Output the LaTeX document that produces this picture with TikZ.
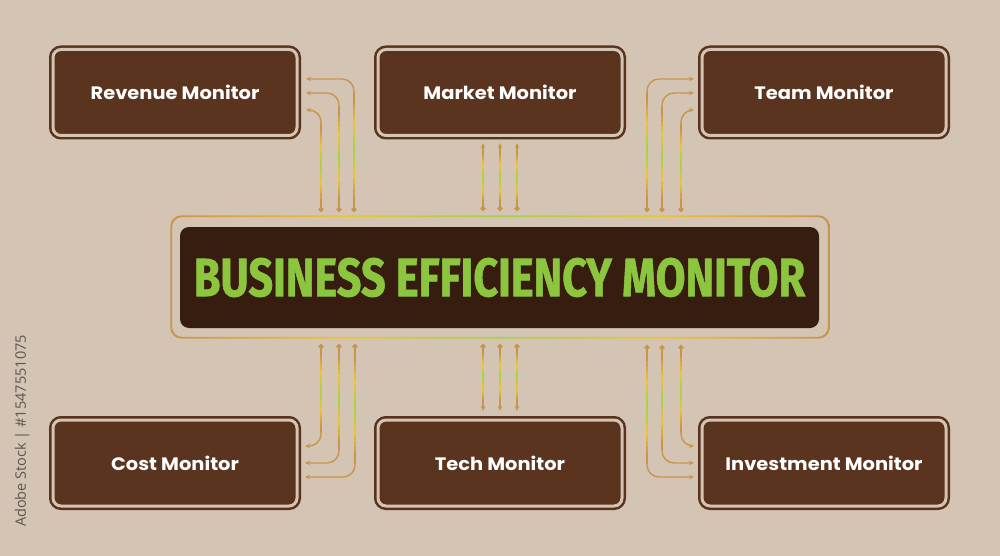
\documentclass[tikz,border=0pt]{standalone}
\usepackage{fontspec}
\usetikzlibrary{arrows.meta}
\newfontfamily\lblfont{Poppins}
\newfontfamily\titlefont{Fira Sans}[BoldFeatures={FakeBold=1.2}]
\newfontfamily\sidefont{Open Sans}
\definecolor{bg}{HTML}{D4C4B4}
\definecolor{boxc}{HTML}{5B341F}
\definecolor{brd}{HTML}{5A331E}
\definecolor{darkc}{HTML}{371D10}
\definecolor{titlegreen}{HTML}{8CC63F}
\definecolor{wtan}{HTML}{C8954C}
\definecolor{wyel}{HTML}{EDC435}
\definecolor{wgrn}{HTML}{A6D04A}
\definecolor{sidegray}{HTML}{5E5651}
\pgfdeclarehorizontalshading{ring}{100bp}{color(0bp)=(wtan); color(25bp)=(wtan); color(38bp)=(wyel); color(50bp)=(wgrn); color(62bp)=(wyel); color(75bp)=(wtan); color(100bp)=(wtan)}
\newcommand\gradwire[3]{% x, y1, y2 : coloured overlay on the straight part of a wire
  \foreach \i in {0,...,19}{
    \pgfmathsetmacro\ya{#2+(#3-#2)*\i/20}
    \pgfmathsetmacro\yb{#2+(#3-#2)*(\i+1)/20+0.3*sign(#3-#2)}
    \pgfmathsetmacro\dd{abs((\i+0.5)/20-0.5)*2}
    \pgfmathparse{\dd<0.45 ? 1 : 0}
    \ifnum\pgfmathresult=1
      \pgfmathsetmacro\pp{100-100*\dd/0.45}
      \colorlet{segc}{wgrn!\pp!wyel}
    \else
      \pgfmathsetmacro\pp{max(0,100-100*(\dd-0.45)/0.4)}
      \colorlet{segc}{wyel!\pp!wtan}
    \fi
    \fill[segc] (#1-0.7,\ya) rectangle (#1+0.7,\yb);
  }}
\tikzset{
  monbox/.style={draw=brd, line width=2.5pt, double=bg, double distance=3pt,
    fill=boxc, rounded corners=8pt, minimum width=244pt, minimum height=86pt,
    inner sep=0pt, text=white, font=\lblfont\bfseries\fontsize{18}{21}\selectfont},
  wire/.style={draw=wtan, line width=1.4pt, rounded corners=12pt,
    {Circle[length=5pt]}-{Stealth[length=5pt,width=4.5pt]}}
}
\begin{document}
\begin{tikzpicture}[x=1pt,y=-1pt]
\fill[bg] (0,0) rectangle (1000,556);
\useasboundingbox (0,0) rectangle (1000,556);

% side text
\node[rotate=90, text=sidegray, font=\sidefont\fontsize{14.5}{16}\selectfont, inner sep=0pt] (side) at (22,431) {Adobe Stock | \#1547551075};

% boxes
\node[monbox] (rev) at (175,92.5) {\scalebox{1.08}[1]{Revenue Monitor}};
\node[monbox] (mkt) at (500,92.5) {\scalebox{1.08}[1]{Market Monitor}};
\node[monbox] (team) at (824,92.5) {\scalebox{1.08}[1]{Team Monitor}};
\node[monbox] (cost) at (175,463) {\scalebox{1.08}[1]{Cost Monitor}};
\node[monbox] (tech) at (500,463) {\scalebox{1.08}[1]{Tech Monitor}};
\node[monbox] (inv) at (824,463) {\scalebox{1.08}[1]{Investment Monitor}};

% center ring
\shade[shading=ring, even odd rule]
  [rounded corners=11pt] (170.3,215.3) rectangle (829.7,338.7)
  [rounded corners=10pt] (172.1,217.1) rectangle (827.9,336.9);
\node[fill=darkc, rounded corners=9pt, minimum width=639pt, minimum height=101pt, inner sep=0pt,
  text=titlegreen, font=\titlefont\bfseries\fontsize{54}{60}\selectfont] (core) at (499.5,277.5)
  {\scalebox{0.8}[1]{BUSINESS EFFICIENCY MONITOR}};

% coordinates
\foreach \n/\x in {1/321,2/339,3/354} {\coordinate (tl\n) at (\x,212);}
\foreach \n/\x in {1/321,2/339,3/355} {\coordinate (bl\n) at (\x,344);}
\foreach \n/\x in {1/483,2/500,3/517} {\coordinate (tm\n) at (\x,211); \coordinate (bm\n) at (\x,344);
  \coordinate (mktE\n) at (\x,143); \coordinate (techE\n) at (\x,411);}
\foreach \n/\x in {1/647,2/662,3/681} {\coordinate (tr\n) at (\x,212); \coordinate (br\n) at (\x,345);}
\coordinate (revA) at (306,79); \coordinate (revB) at (306,93); \coordinate (revC) at (306,110);
\coordinate (teamA) at (694,79); \coordinate (teamB) at (694,93); \coordinate (teamC) at (694,110);
\coordinate (costA) at (305,446); \coordinate (costB) at (305,463); \coordinate (costC) at (305,477);
\coordinate (invA) at (694,446); \coordinate (invB) at (694,463); \coordinate (invC) at (694,477);

% connectors
\draw[wire] (tl1) |- (revC);
\draw[wire] (tl2) |- (revB);
\draw[wire] (tl3) |- (revA);
\draw[wire] (tr1) |- (teamA);
\draw[wire] (tr2) |- (teamB);
\draw[wire] (tr3) |- (teamC);
\draw[wire] (bl1) |- (costA);
\draw[wire] (bl2) |- (costB);
\draw[wire] (bl3) |- (costC);
\draw[wire] (br3) |- (invA);
\draw[wire] (br2) |- (invB);
\draw[wire] (br1) |- (invC);
\foreach \n in {1,2,3} {
  \draw[wire] (tm\n) -- (mktE\n);
  \draw[wire] (bm\n) -- (techE\n);
}

% gradient colouring of straight parts
\gradwire{321}{207}{123}
\gradwire{339}{207}{106}
\gradwire{354}{207}{92}
\gradwire{647}{207}{92}
\gradwire{662}{207}{106}
\gradwire{681}{207}{123}
\gradwire{483}{206}{149}
\gradwire{500}{206}{149}
\gradwire{517}{206}{149}
\gradwire{321}{349}{433}
\gradwire{339}{349}{450}
\gradwire{355}{349}{464}
\gradwire{681}{350}{433}
\gradwire{662}{350}{450}
\gradwire{647}{350}{464}
\gradwire{483}{349}{405}
\gradwire{500}{349}{405}
\gradwire{517}{349}{405}
\end{tikzpicture}
\end{document}
